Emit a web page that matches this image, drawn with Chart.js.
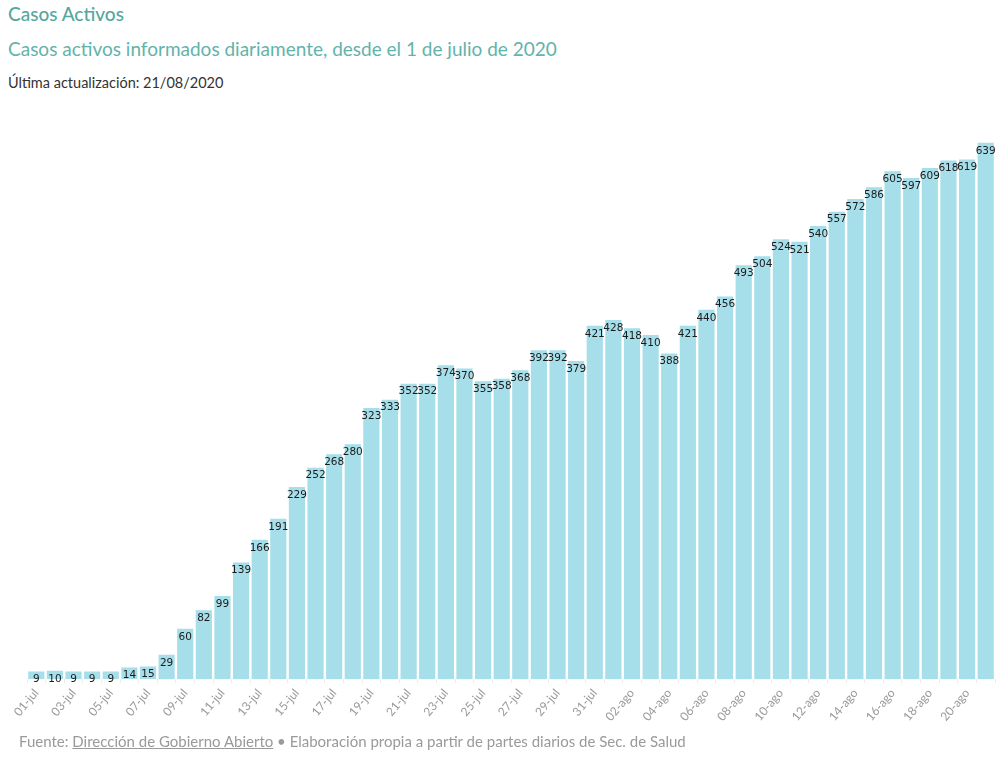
<!DOCTYPE html>
<html>
<head>
<meta charset="utf-8">
<script src="https://cdn.jsdelivr.net/npm/chart.js@4.4.1/dist/chart.umd.min.js"></script>
<style>
  html, body { margin: 0; padding: 0; background: #fff; width: 1000px; height: 758px; overflow: hidden; }
  body { position: relative; font-family: Lato, "Open Sans", sans-serif; }
  #t1 { position: absolute; left: 8px; top: 2px; font-size: 19px; color: #56a79e; font-weight: 500; }
  #t2 { position: absolute; left: 8px; top: 37px; font-size: 19px; color: #62b3ab; }
  #t3 { position: absolute; left: 8px; top: 74px; font-size: 14.5px; color: #333; }
  #foot { position: absolute; left: 19px; top: 732px; font-size: 15px; color: #9a9a9a; }
  #foot u { text-decoration: underline; }
  #wrap { position: absolute; left: 0; top: 95px; width: 1000px; height: 640px; }
</style>
</head>
<body>
<div id="t1">Casos Activos</div>
<div id="t2">Casos activos informados diariamente, desde el 1 de julio de 2020</div>
<div id="t3">Última actualización: 21/08/2020</div>
<div id="wrap"><canvas id="c"></canvas></div>
<div id="foot">Fuente: <u>Dirección de Gobierno Abierto</u> • Elaboración propia a partir de partes diarios de Sec. de Salud</div>
<script>
const julyDays = 31;
const augustDays = 21;
const categories = [];
for (let d = 1; d <= julyDays; d++) categories.push(String(d).padStart(2, '0') + '-jul');
for (let d = 1; d <= augustDays; d++) categories.push(String(d).padStart(2, '0') + '-ago');

const activeCases = [9, 10, 9, 9, 9, 14, 15, 29, 60, 82, 99, 139, 166, 191, 229, 252, 268, 280, 323, 333,
  352, 352, 374, 370, 355, 358, 368, 392, 392, 379, 421, 428, 418, 410, 388, 421, 440, 456, 493, 504,
  524, 521, 540, 557, 572, 586, 605, 597, 609, 618, 619, 639];

const valueLabels = {
  id: 'valueLabels',
  afterDatasetsDraw(chart) {
    const ctx = chart.ctx;
    const meta = chart.getDatasetMeta(0);
    ctx.save();
    ctx.font = '10.5px "DejaVu Sans", Verdana, sans-serif';
    ctx.fillStyle = '#1a1a1a';
    ctx.textAlign = 'center';
    ctx.textBaseline = 'middle';
    meta.data.forEach((bar, i) => {
      ctx.fillText(String(activeCases[i]), bar.x, bar.y + 8);
    });
    ctx.restore();
  }
};

new Chart(document.getElementById('c'), {
  type: 'bar',
  data: {
    labels: categories,
    datasets: [{
      data: activeCases,
      backgroundColor: '#a6deea',
      borderWidth: 0,
      categoryPercentage: 0.87,
      barPercentage: 1.0
    }]
  },
  options: {
    responsive: true,
    maintainAspectRatio: false,
    animation: false,
    layout: { padding: { left: 27, right: 5, top: 5, bottom: 8 } },
    plugins: { legend: { display: false }, tooltip: { enabled: false } },
    scales: {
      x: {
        grid: { display: true, drawOnChartArea: false, drawTicks: true, tickLength: 4, color: '#ececec' },
        border: { display: false },
        ticks: {
          autoSkip: false,
          minRotation: 50,
          maxRotation: 50,
          color: '#9a9a9a',
          font: { family: 'Lato', size: 12 },
          callback: function (v, i) { return i % 2 === 0 ? categories[i] : ''; }
        }
      },
      y: {
        display: false,
        min: 0,
        max: 690
      }
    }
  },
  plugins: [valueLabels]
});
</script>
</body>
</html>
